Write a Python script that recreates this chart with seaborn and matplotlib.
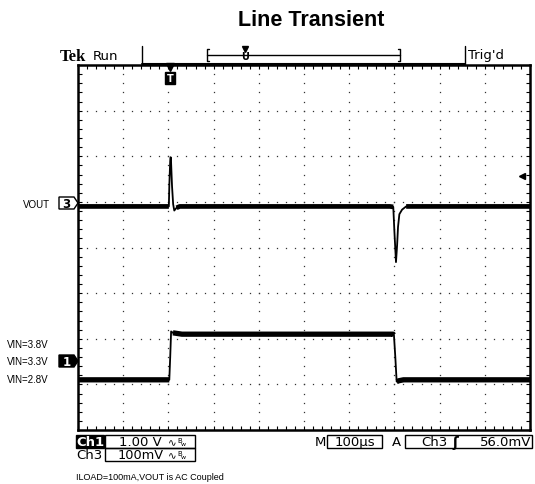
import numpy as np
import pandas as pd
import seaborn as sns
import matplotlib.pyplot as plt
from matplotlib.patches import Rectangle, Polygon

# Scope settings
TIME_PER_DIV = 100        # us / div
CH1_VOLTS_PER_DIV = 1.0   # VIN
CH3_MV_PER_DIV = 100      # VOUT (AC coupled)
TRIG_LEVEL_MV = 56.0
CH1_POS = -2.4            # div where 3.3 V sits
CH3_POS = 0.95            # div of the ch3 reference marker

# Ch1: VIN in volts, time in us from the trigger
vin_time = [-200, 2, 4, 6, 10, 30, 497, 499, 502, 505, 510, 520, 800]
vin_volts = [2.8, 2.8, 3.3, 3.86, 3.83, 3.8, 3.8, 3.78, 3.3, 2.76, 2.78, 2.8, 2.8]

# Ch3: VOUT ripple in mV
vout_time = [-200, 1, 2, 4, 5, 6, 8, 10.5, 13, 18, 25,
             490, 497.5, 500, 503.5, 506, 508, 511, 517, 526, 800]
vout_mv = [-5, -5, 40, 95, 103, 90, 40, 0, -14, -8, -5,
           -5, -6, -60, -127, -90, -50, -22, -12, -5, -5]

W, H = 535, 485

sns.set_style("white")
plt.rcParams['font.family'] = ['DejaVu Sans']
plt.rcParams['text.color'] = 'black'

fig = plt.figure(figsize=(W / 100, H / 100), dpi=100)
ax = fig.add_axes([78 / W, 1 - 431 / H, 452 / W, 365 / H])
ax.set_xlim(-2 * TIME_PER_DIV, 8 * TIME_PER_DIV)
ax.set_ylim(-4, 4)

# graticule: dotted division lines, ticks on the frame
for xv in np.arange(-1, 8) * TIME_PER_DIV:
    ys = np.arange(-3.8, 3.81, 0.2)
    ax.plot(np.full_like(ys, xv), ys, ls='none', marker='s', ms=0.9,
            mec='none', color='#333333', zorder=1)
for yv in range(-3, 4):
    xs = np.arange(-180, 781, 20)
    ax.plot(xs, np.full_like(xs, yv, dtype=float), ls='none', marker='s', ms=0.9,
            mec='none', color='#333333', zorder=1)

ax.set_xticks(np.arange(-200, 801, 100))
ax.set_xticks(np.arange(-200, 801, 20), minor=True)
ax.set_yticks(np.arange(-4, 5, 1))
ax.set_yticks(np.arange(-4, 4.01, 0.2), minor=True)
ax.tick_params(which='both', direction='in', top=True, right=True, bottom=True, left=True,
               length=3, width=0.8, color='black', labelbottom=False, labelleft=False)
for sp in ax.spines.values():
    sp.set_linewidth(1.8)
    sp.set_color('black')

# traces
vin_div = CH1_POS + (np.array(vin_volts) - 3.3) / CH1_VOLTS_PER_DIV
vout_div = CH3_POS + np.array(vout_mv) / CH3_MV_PER_DIV
vin_df = pd.DataFrame({'t': vin_time, 'div': vin_div})
vout_df = pd.DataFrame({'t': vout_time, 'div': vout_div})

sns.lineplot(data=vin_df, x='t', y='div', ax=ax, color='black', lw=1.3,
             estimator=None, sort=False, zorder=3)
sns.lineplot(data=vout_df, x='t', y='div', ax=ax, color='black', lw=1.3,
             estimator=None, sort=False, zorder=3)

# noisy flat parts drawn as a thicker band
vin_levels = np.array([2.8, 3.8])
vin_quiet = np.min(np.abs(np.subtract.outer(np.array(vin_volts), vin_levels)), axis=1) <= 0.06
vout_quiet = np.abs(np.array(vout_mv) + 5) <= 6
ax.plot(vin_time, np.where(vin_quiet, vin_div, np.nan), color='black', lw=3.8,
        solid_capstyle='butt', zorder=3)
ax.plot(vout_time, np.where(vout_quiet, vout_div, np.nan), color='black', lw=3.4,
        solid_capstyle='butt', zorder=3)

# trigger level arrow on the right
ax.plot([0.982], [CH3_POS + TRIG_LEVEL_MV / CH3_MV_PER_DIV + 0.05], marker='<', ms=5,
        color='black', transform=ax.get_yaxis_transform(), clip_on=False)
ax.set_xlabel('')
ax.set_ylabel('')

# overlay in pixel coordinates for the scope readouts
ov = fig.add_axes([0, 0, 1, 1], facecolor='none')
ov.set_xlim(0, W)
ov.set_ylim(H, 0)
ov.axis('off')

fig.text(311 / W, 1 - 20 / H, 'Line Transient', ha='center', va='center',
         fontsize=15.5, fontweight='bold', family='Liberation Sans', color='black')

# top status bar
ov.text(60, 57, 'Tek', fontsize=12, fontweight='bold', family='Liberation Serif', va='center')
ov.text(93, 57, 'Run', fontsize=9.5, va='center')
ov.plot([142, 142], [47, 66], color='black', lw=1)
ov.plot([465, 465], [47, 66], color='black', lw=1)
ov.plot([142, 465], [64.5, 64.5], color='black', lw=1.5)
ov.plot([207, 400], [56, 56], color='black', lw=1)
ov.plot([209, 207, 207, 209], [50, 50, 62, 62], color='black', lw=1)
ov.plot([398, 400, 400, 398], [50, 50, 62, 62], color='black', lw=1)
ov.plot([245], [50], marker='v', ms=4, color='black')
ov.text(245, 57, 'U', fontsize=7, fontweight='bold', ha='center', va='center')
ov.text(468, 56, "Trig'd", fontsize=9.5, va='center')

# trigger position marker
ov.plot([170], [68], marker='v', ms=6, color='black')
ov.text(170, 79, 'T', fontsize=7, fontweight='bold', color='white', ha='center', va='center',
        bbox=dict(boxstyle='square,pad=0.15', fc='black', ec='black'))

# channel markers
def ch_marker(yc, label, filled):
    pts = [(59, yc - 6), (74, yc - 6), (78, yc), (74, yc + 6), (59, yc + 6)]
    ov.add_patch(Polygon(pts, closed=True, fc='black' if filled else 'white',
                         ec='black', lw=1))
    ov.text(66.5, yc + 0.5, label, fontsize=8.5, fontweight='bold',
            color='white' if filled else 'black', ha='center', va='center')

ch_marker(204, '3', False)
ch_marker(362, '1', True)
ov.text(50, 205, 'VOUT', fontsize=7, ha='right', va='center', family='Liberation Sans')
for yv, lab in zip([345, 362, 380], ['VIN=3.8V', 'VIN=3.3V', 'VIN=2.8V']):
    ov.text(7, yv, lab, fontsize=7, ha='left', va='center', family='Liberation Sans')

# bottom readouts
ov.add_patch(Rectangle((76, 436), 28, 13, fc='black', ec='black'))
ov.text(90, 443, 'Ch1', fontsize=9.5, fontweight='bold', color='white', ha='center', va='center')
ov.add_patch(Rectangle((105, 436), 90, 13, fc='none', ec='black', lw=1))
ov.text(119, 443, '1.00 V', fontsize=9.5, va='center')
ov.text(168, 443, '∿', fontsize=7.5, va='center')
ov.text(177, 441, 'B', fontsize=5, va='center')
ov.text(181, 445, 'w', fontsize=4.5, va='center')

ov.text(76, 456, 'Ch3', fontsize=9.5, va='center')
ov.add_patch(Rectangle((105, 449), 90, 13, fc='none', ec='black', lw=1))
ov.text(118, 456, '100mV', fontsize=9.3, va='center')
ov.text(168, 456, '∿', fontsize=7.5, va='center')
ov.text(177, 454, 'B', fontsize=5, va='center')
ov.text(181, 458, 'w', fontsize=4.5, va='center')

ov.text(315, 443, 'M', fontsize=9.5, va='center')
ov.add_patch(Rectangle((327, 436), 55, 13, fc='none', ec='black', lw=1))
ov.text(354.5, 443, '100µs', fontsize=9.5, ha='center', va='center')
ov.text(392, 443, 'A', fontsize=9.5, va='center')
ov.add_patch(Rectangle((405, 436), 127, 13, fc='none', ec='black', lw=1))
ov.text(421, 443, 'Ch3', fontsize=9.5, va='center')
ov.text(452, 443, 'ʃ', fontsize=10, va='center', fontweight='bold')
ov.text(531, 443, '56.0mV', fontsize=9.5, ha='right', va='center')

ov.text(76, 478, 'ILOAD=100mA,VOUT is AC Coupled', fontsize=6.5, va='center',
        family='Liberation Sans')

fig.savefig('out.png', dpi=100)
